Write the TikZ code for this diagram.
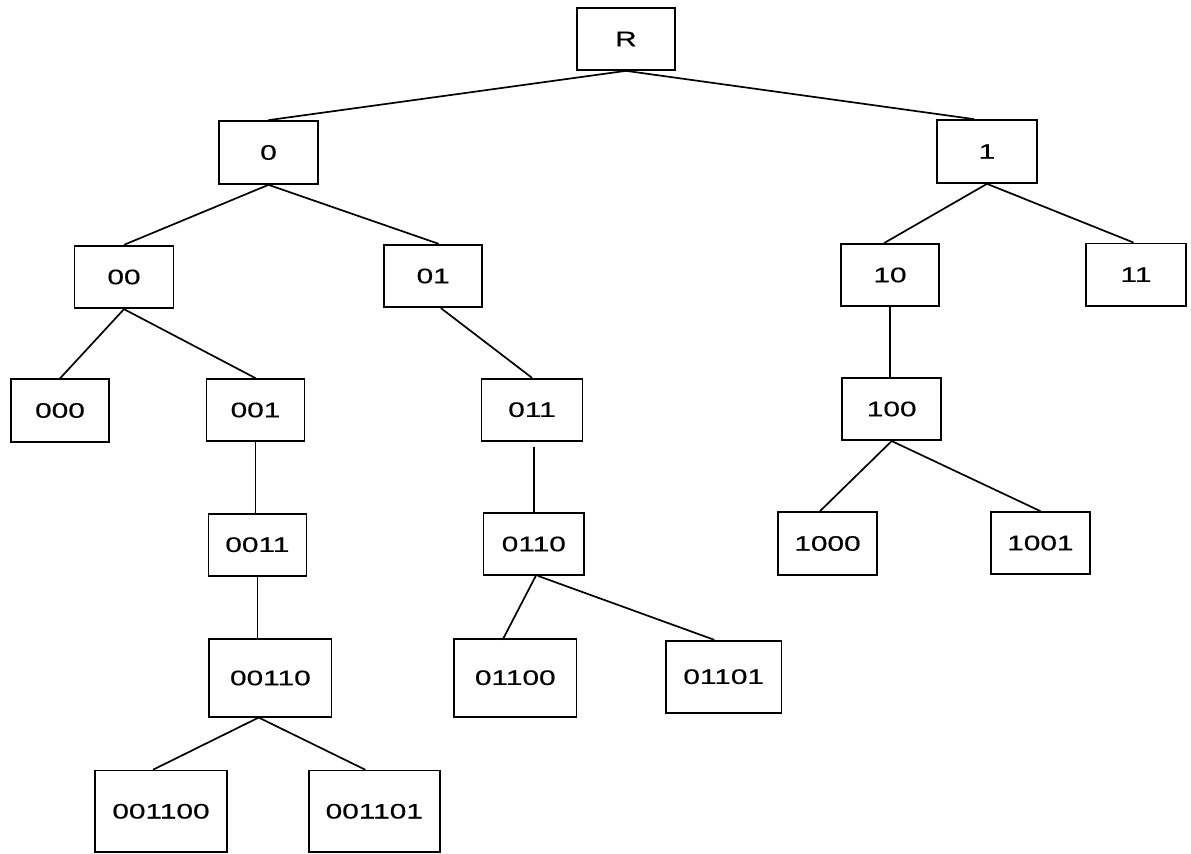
\documentclass[tikz,border=0pt]{standalone}
\usepackage{fontspec}
\setmainfont{Liberation Sans}[FakeStretch=1.42,FakeBold=0.6]
\usetikzlibrary{calc}
\tikzset{
  box/.style={draw, line width=0.85pt, inner sep=0pt, fill=white,
    font=\fontsize{10.5}{12}\selectfont},
  link/.style={line width=0.85pt},
  sz/.style 2 args={minimum width=#1pt, minimum height=#2pt}
}
\begin{document}
\begin{tikzpicture}[x=0.5pt,y=-0.5pt]
\useasboundingbox (0,0) rectangle (1191,854);
% nodes
\node[box,sz={48.75}{31}]   (R)       at (626,39)      {R};
\node[box,sz={49.5}{31.5}]  (n0)      at (268.5,152.5) {0};
\node[box,sz={50}{31.5}]    (n1)      at (987,151.5)   {1};
\node[box,sz={49.5}{31.3}]  (n00)     at (124,277)     {00};
\node[box,sz={49}{31.3}]    (n01)     at (433.2,276)   {01};
\node[box,sz={49}{31}]      (n10)     at (890,275)     {10};
\node[box,sz={50}{31.3}]    (n11)     at (1136,274.7)  {11};
\node[box,sz={49.2}{31.2}]  (n000)    at (60,410.5)    {000};
\node[box,sz={49}{31}]      (n001)    at (255.5,410)   {001};
\node[box,sz={50.5}{31}]    (n011)    at (532,409.7)   {011};
\node[box,sz={49.4}{31.2}]  (n100)    at (891.7,409)   {100};
\node[box,sz={49}{31}]      (n0011)   at (257.4,544.7) {0011};
\node[box,sz={50.2}{31}]    (n0110)   at (533.8,544)   {0110};
\node[box,sz={49.2}{31.5}]  (n1000)   at (827.5,543.5) {1000};
\node[box,sz={49.7}{31}]    (n1001)   at (1040.4,543)  {1001};
\node[box,sz={61.2}{38.7}]  (n00110)  at (270.4,678)   {00110};
\node[box,sz={61.3}{39}]    (n01100)  at (515.3,677.7) {01100};
\node[box,sz={57.9}{36}]    (n01101)  at (723.7,676.7) {01101};
\node[box,sz={66}{40.7}]    (n001100) at (161,811.3)   {001100};
\node[box,sz={65.5}{40.7}]  (n001101) at (374.3,811.3) {001101};
% connectors
\draw[link] (R.south) -- (n0.north);
\draw[link] (R.south) -- ($(n1.north)+(-13,0)$);
\draw[link] (n0.south) -- (n00.north);
\draw[link] (n0.south) -- ($(n01.north)+(5.5,0)$);
\draw[link] (n1.south) -- ($(n10.north)+(-6,0)$);
\draw[link] (n1.south) -- ($(n11.north)+(-2.5,0)$);
\draw[link] (n00.south) -- (n000.north);
\draw[link] (n00.south) -- (n001.north);
\draw[link] ($(n01.south)+(7.7,0)$) -- (n011.north);
\draw[link] (n10.south) -- (n10.south |- n100.north);
\draw[link] (n001.south) -- (n001.south |- n0011.north);
\draw[link] ($(n011.south)+(1.8,5)$) -- (n0110.north);
\draw[link] (n100.south) -- ($(n1000.north)+(-7.5,0)$);
\draw[link] (n100.south) -- (n1001.north);
\draw[link] (n0011.south) -- (n0011.south |- n00110.north);
\draw[link] ($(n0110.south)+(2,0)$) -- ($(n01100.north)+(-12.7,2)$);
\draw[link] ($(n0110.south)+(4,0)$) -- ($(n01101.north)+(-9.4,0)$);
\draw[link] ($(n00110.south)+(-11.7,0)$) -- ($(n001100.north)+(-8,0)$);
\draw[link] ($(n00110.south)+(-11.7,0)$) -- ($(n001101.north)+(-9,0)$);
\end{tikzpicture}
\end{document}
